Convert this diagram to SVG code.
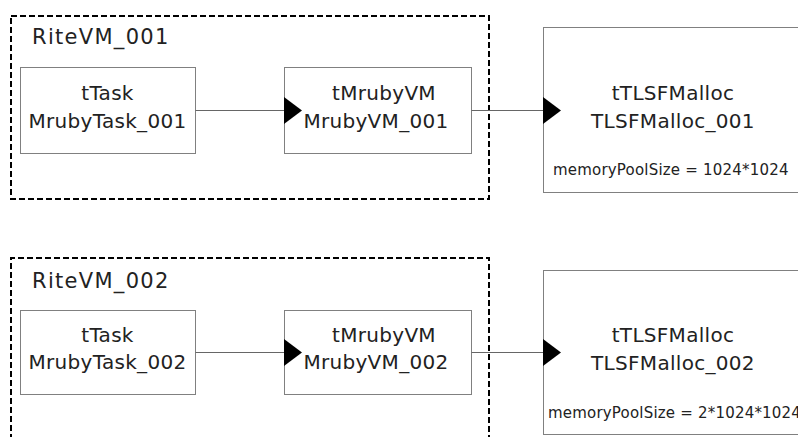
<svg xmlns="http://www.w3.org/2000/svg" width="798" height="437" viewBox="0 0 798 437">
<defs>
<style>
.bg{fill:#fff}
.grp{fill:none;stroke:#000;stroke-width:2;stroke-dasharray:6 3}
.box{fill:#fff;stroke:#808080;stroke-width:1}
.t{font-family:"DejaVu Sans",Verdana,sans-serif;fill:#222;text-anchor:middle}
.big{font-size:20px;letter-spacing:0.3px}
.lbl{font-size:21px;letter-spacing:1.3px;text-anchor:start}
.sm{font-size:15px;letter-spacing:0.2px;text-anchor:start}
.edge{stroke:#666;stroke-width:1;fill:none}
.ah{fill:#000}
</style>
</defs>
<rect class="bg" x="0" y="0" width="798" height="437"/>
<g id="RiteVM_001">
<rect class="grp" x="11" y="16" width="478" height="183"/>
<text class="t lbl" x="32" y="44">RiteVM_001</text>
</g>
<g id="RiteVM_002">
<path class="grp" d="M11,440 V258 H489 V440"/>
<text class="t lbl" x="32" y="288">RiteVM_002</text>
</g>
<g id="MrubyTask_001">
<rect class="box" x="20.5" y="67.5" width="175" height="86"/>
<text class="t big" x="107.5" y="100">tTask</text>
<text class="t big" x="107.5" y="128">MrubyTask_001</text>
</g>
<g id="MrubyVM_001">
<rect class="box" x="284.5" y="67.5" width="187" height="86"/>
<text class="t big" x="384" y="100">tMrubyVM</text>
<text class="t big" x="376" y="128">MrubyVM_001</text>
</g>
<g id="TLSFMalloc_001">
<rect class="box" x="543.5" y="27.5" width="260" height="165"/>
<text class="t big" x="673" y="100">tTLSFMalloc</text>
<text class="t big" x="673" y="128">TLSFMalloc_001</text>
<text class="t sm" x="553" y="175">memoryPoolSize = 1024*1024</text>
</g>
<g id="MrubyTask_002">
<rect class="box" x="20.5" y="310.5" width="175" height="84"/>
<text class="t big" x="107.5" y="342">tTask</text>
<text class="t big" x="107.5" y="369">MrubyTask_002</text>
</g>
<g id="MrubyVM_002">
<rect class="box" x="284.5" y="310.5" width="187" height="84"/>
<text class="t big" x="384" y="342">tMrubyVM</text>
<text class="t big" x="376" y="369">MrubyVM_002</text>
</g>
<g id="TLSFMalloc_002">
<rect class="box" x="543.5" y="270.5" width="260" height="164"/>
<text class="t big" x="673" y="342">tTLSFMalloc</text>
<text class="t big" x="673" y="370">TLSFMalloc_002</text>
<text class="t sm" x="548" y="418">memoryPoolSize = 2*1024*1024</text>
</g>
<g id="connectors">
<line class="edge" x1="195.5" y1="110.5" x2="284" y2="110.5"/>
<polygon class="ah" points="284,97 302,110.5 284,124"/>
<line class="edge" x1="471.5" y1="110.5" x2="543" y2="110.5"/>
<polygon class="ah" points="543,97 561,110.5 543,124"/>
<line class="edge" x1="195.5" y1="352.5" x2="284" y2="352.5"/>
<polygon class="ah" points="284,339 302,352.5 284,366"/>
<line class="edge" x1="471.5" y1="352.5" x2="543" y2="352.5"/>
<polygon class="ah" points="543,339 561,352.5 543,366"/>
</g>
</svg>
